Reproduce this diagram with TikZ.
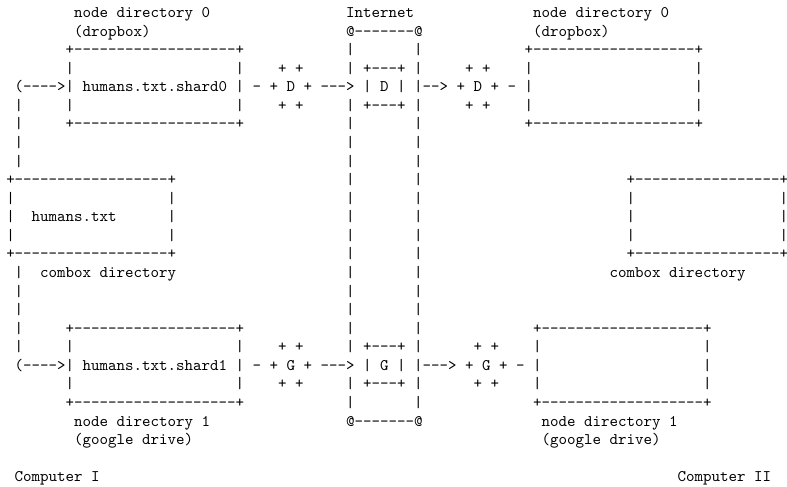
\documentclass[tikz,border=0pt]{standalone}
\usepackage{fontspec}
\setmonofont{lmmono10-regular.otf}
\tikzset{t/.style={font=\ttfamily\fontsize{10}{12}\selectfont\frenchspacing, inner sep=0pt, outer sep=0pt, anchor=base west}}
\newcommand\seg[4]{\node[t] (#1) at (#2,#3) {#4};}
\begin{document}
\begin{tikzpicture}
\useasboundingbox (0,0) rectangle (486.1pt,-300.2pt);
\begin{scope}[shift={(3.86pt,-10.81pt)}, x=5.25pt, y=-11.47pt]
% row 0
\seg{a0}{8}{0}{node directory 0}
\seg{b0}{40}{0}{Internet}
\seg{c0}{62}{0}{node directory 0}
% row 1
\seg{a1}{8}{1}{(dropbox)}
\seg{b1}{40}{1}{@-------@}
\seg{c1}{62}{1}{(dropbox)}
% row 2
\seg{a2}{7}{2}{+-------------------+}
\seg{b2}{40}{2}{|}
\seg{d2}{48}{2}{|}
\seg{c2}{61}{2}{+-------------------+}
% row 3
\seg{a3}{7}{3}{|}
\seg{e3}{27}{3}{|}
\seg{f3}{32}{3}{+~+}
\seg{b3}{40}{3}{|}
\seg{g3}{42}{3}{+---+}
\seg{d3}{48}{3}{|}
\seg{h3}{54}{3}{+~+}
\seg{c3}{61}{3}{|}
\seg{i3}{81}{3}{|}
% row 4
\seg{a4}{1}{4}{(---->|}
\seg{j4}{9}{4}{humans.txt.shard0}
\seg{e4}{27}{4}{|}
\seg{f4}{29}{4}{-~+~D~+~--->}
\seg{g4}{42}{4}{|~D~|}
\seg{d4}{48}{4}{|-->~+~D~+~-}
\seg{c4}{61}{4}{|}
\seg{i4}{81}{4}{|}
% row 5
\seg{k5}{1}{5}{|}
\seg{a5}{7}{5}{|}
\seg{e5}{27}{5}{|}
\seg{f5}{32}{5}{+~+}
\seg{b5}{40}{5}{|}
\seg{g5}{42}{5}{+---+}
\seg{d5}{48}{5}{|}
\seg{h5}{54}{5}{+~+}
\seg{c5}{61}{5}{|}
\seg{i5}{81}{5}{|}
% row 6
\seg{k6}{1}{6}{|}
\seg{a6}{7}{6}{+-------------------+}
\seg{b6}{40}{6}{|}
\seg{d6}{48}{6}{|}
\seg{c6}{61}{6}{+-------------------+}
% rows 7-8
\seg{k7}{1}{7}{|}
\seg{b7}{40}{7}{|}
\seg{d7}{48}{7}{|}
\seg{k8}{1}{8}{|}
\seg{b8}{40}{8}{|}
\seg{d8}{48}{8}{|}
% row 9
\seg{m9}{0}{9}{+------------------+}
\seg{b9}{40}{9}{|}
\seg{d9}{48}{9}{|}
\seg{n9}{73}{9}{+-----------------+}
% row 10
\seg{m10}{0}{10}{|}
\seg{o10}{19}{10}{|}
\seg{b10}{40}{10}{|}
\seg{d10}{48}{10}{|}
\seg{n10}{73}{10}{|}
\seg{p10}{91}{10}{|}
% row 11
\seg{m11}{0}{11}{|}
\seg{q11}{3}{11}{humans.txt}
\seg{o11}{19}{11}{|}
\seg{b11}{40}{11}{|}
\seg{d11}{48}{11}{|}
\seg{n11}{73}{11}{|}
\seg{p11}{91}{11}{|}
% row 12
\seg{m12}{0}{12}{|}
\seg{o12}{19}{12}{|}
\seg{b12}{40}{12}{|}
\seg{d12}{48}{12}{|}
\seg{n12}{73}{12}{|}
\seg{p12}{91}{12}{|}
% row 13
\seg{m13}{0}{13}{+------------------+}
\seg{b13}{40}{13}{|}
\seg{d13}{48}{13}{|}
\seg{n13}{73}{13}{+-----------------+}
% row 14
\seg{k14}{1}{14}{|}
\seg{r14}{4}{14}{combox directory}
\seg{b14}{40}{14}{|}
\seg{d14}{48}{14}{|}
\seg{s14}{71}{14}{combox directory}
% rows 15-16
\seg{k15}{1}{15}{|}
\seg{b15}{40}{15}{|}
\seg{d15}{48}{15}{|}
\seg{k16}{1}{16}{|}
\seg{b16}{40}{16}{|}
\seg{d16}{48}{16}{|}
% row 17
\seg{k17}{1}{17}{|}
\seg{a17}{7}{17}{+-------------------+}
\seg{b17}{40}{17}{|}
\seg{d17}{48}{17}{|}
\seg{c17}{62}{17}{+-------------------+}
% row 18
\seg{k18}{1}{18}{|}
\seg{a18}{7}{18}{|}
\seg{e18}{27}{18}{|}
\seg{f18}{32}{18}{+~+}
\seg{b18}{40}{18}{|}
\seg{g18}{42}{18}{+---+}
\seg{d18}{48}{18}{|}
\seg{h18}{55}{18}{+~+}
\seg{c18}{62}{18}{|}
\seg{i18}{82}{18}{|}
% row 19
\seg{a19}{1}{19}{(---->|}
\seg{j19}{9}{19}{humans.txt.shard1}
\seg{e19}{27}{19}{|}
\seg{f19}{29}{19}{-~+~G~+~--->}
\seg{g19}{42}{19}{|~G~|}
\seg{d19}{48}{19}{|--->~+~G~+~-}
\seg{c19}{62}{19}{|}
\seg{i19}{82}{19}{|}
% row 20
\seg{a20}{7}{20}{|}
\seg{e20}{27}{20}{|}
\seg{f20}{32}{20}{+~+}
\seg{b20}{40}{20}{|}
\seg{g20}{42}{20}{+---+}
\seg{d20}{48}{20}{|}
\seg{h20}{55}{20}{+~+}
\seg{c20}{62}{20}{|}
\seg{i20}{82}{20}{|}
% row 21
\seg{a21}{7}{21}{+-------------------+}
\seg{b21}{40}{21}{|}
\seg{d21}{48}{21}{|}
\seg{c21}{62}{21}{+-------------------+}
% row 22
\seg{a22}{8}{22}{node directory 1}
\seg{b22}{40}{22}{@-------@}
\seg{c22}{63}{22}{node directory 1}
% row 23
\seg{a23}{8}{23}{(google drive)}
\seg{c23}{63}{23}{(google drive)}
% row 25
\seg{a25}{1}{25}{Computer I}
\seg{c25}{79}{25}{Computer II}
\end{scope}
\end{tikzpicture}
\end{document}
